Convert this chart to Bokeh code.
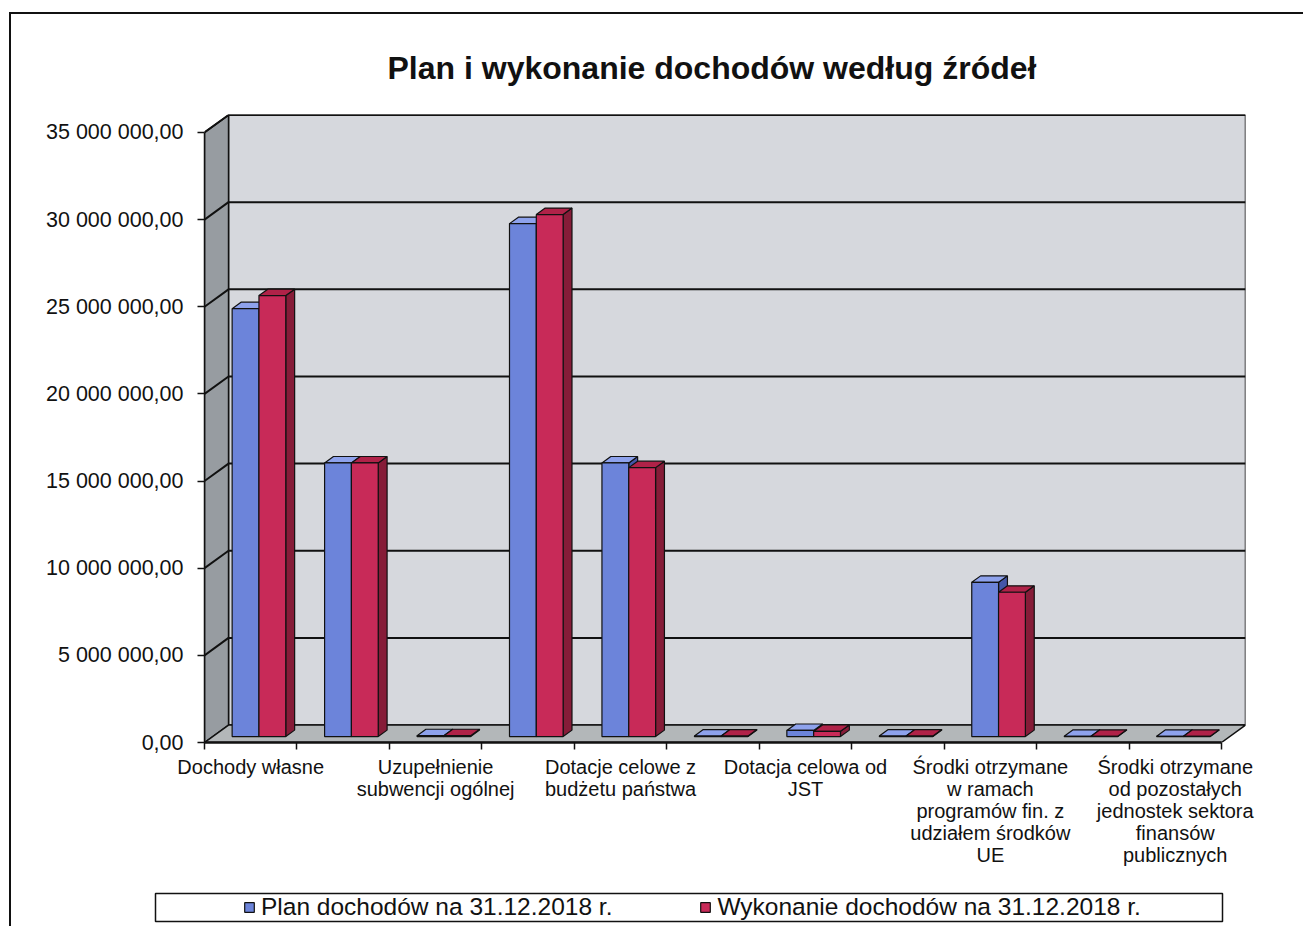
from bokeh.plotting import figure
from bokeh.models import FixedTicker, Legend, LegendItem, Range1d, Column, Row
from bokeh.embed import file_html
from bokeh.resources import INLINE

# ---------------- data ----------------
title_text = "Plan i wykonanie dochodów według źródeł"
categories = [
    "Dochody własne",
    "Subwencja ogólna",
    "Uzupełnienie subwencji ogólnej",
    "Dotacje celowe z budżetu państwa na zadania zlecone",
    "Dotacje celowe z budżetu państwa",
    "Dotacje z funduszy celowych",
    "Dotacja celowa od JST",
    "Dotacje w ramach porozumień",
    "Środki otrzymane w ramach programów fin. z udziałem środków UE",
    "Pozostałe dochody",
    "Środki otrzymane od pozostałych jednostek sektora finansów publicznych",
]
# category labels actually printed under the axis (others skipped, as in the original)
shown_labels = {
    0: "Dochody własne",
    2: "Uzupełnienie\nsubwencji ogólnej",
    4: "Dotacje celowe z\nbudżetu państwa",
    6: "Dotacja celowa od\nJST",
    8: "Środki otrzymane\nw ramach\nprogramów fin. z\nudziałem środków\nUE",
    10: "Środki otrzymane\nod pozostałych\njednostek sektora\nfinansów\npublicznych",
}
series_names = ["Plan dochodów na 31.12.2018 r.", "Wykonanie dochodów na 31.12.2018 r."]
plan = [24_550_000, 15_700_000, 50_000, 29_430_000, 15_700_000, 30_000,
        350_000, 30_000, 8_850_000, 20_000, 20_000]
wykonanie = [25_300_000, 15_700_000, 50_000, 29_950_000, 15_430_000, 30_000,
             300_000, 30_000, 8_280_000, 20_000, 20_000]
y_ticks = [0, 5_000_000, 10_000_000, 15_000_000, 20_000_000, 25_000_000, 30_000_000, 35_000_000]
y_tick_labels = ["0,00", "5 000 000,00", "10 000 000,00", "15 000 000,00", "20 000 000,00",
                 "25 000 000,00", "30 000 000,00", "35 000 000,00"]

# ---------------- style / 3-D geometry ----------------
N = len(categories)
YMAX = y_ticks[-1]
DX_W, DY_W = 0.26, 1_000_000        # wall depth offset
BW = 0.29                            # bar width (category units)
DX_B0, DY_B0 = 0.089, 340_000        # bar front offset from front plane
DX_BD, DY_BD = 0.096, 370_000        # bar depth
FONT = "Liberation Sans"
INK = "#111111"

BLUE = dict(front="#6C84DA", top="#8EA2EC", side="#4456A8")
RED = dict(front="#C82A58", top="#B02248", side="#861C38")

p = figure(width=1292, height=866, output_backend="svg", toolbar_location=None,
           x_range=Range1d(0, N + DX_W), y_range=Range1d(0, YMAX + DY_W + 30_000),
           min_border_left=193, min_border_right=58, min_border_top=100, min_border_bottom=138,
           background_fill_color="white", border_fill_color="white", outline_line_color=None)
p.xgrid.visible = False
p.ygrid.visible = False

# back wall
p.quad(left=[DX_W], right=[N + DX_W], bottom=[DY_W], top=[YMAX + DY_W],
       fill_color="#D6D8DD", line_color=INK, line_width=1.5)
# left wall
p.patch([0, DX_W, DX_W, 0], [0, DY_W, YMAX + DY_W, YMAX],
        fill_color="#979CA1", line_color=INK, line_width=1.5)
# floor
p.patch([0, N, N + DX_W, DX_W], [0, 0, DY_W, DY_W],
        fill_color="#B3B7B9", line_color=INK, line_width=1.5)

# gridlines on back wall + connectors on left wall
gx, gy = [], []
for v in y_ticks[1:]:
    gx.append([0, DX_W, N + DX_W])
    gy.append([v, v + DY_W, v + DY_W])
p.multi_line(gx, gy, line_color=INK, line_width=2)


def bar_parts(values, side):
    fl, fr, fb, ft = [], [], [], []
    txs, tys, sxs, sys_ = [], [], [], []
    for i, v in enumerate(values):
        c = i + 0.5
        if side < 0:
            l, r = c - BW + DX_B0, c + DX_B0
        else:
            l, r = c + DX_B0, c + BW + DX_B0
        b = DY_B0
        t = DY_B0 + v
        fl.append(l); fr.append(r); fb.append(b); ft.append(t)
        txs.append([l, r, r + DX_BD, l + DX_BD])
        tys.append([t, t, t + DY_BD, t + DY_BD])
        sxs.append([r, r + DX_BD, r + DX_BD, r])
        sys_.append([b, b + DY_BD, t + DY_BD, t])
    return fl, fr, fb, ft, txs, tys, sxs, sys_


for vals, col, side in [(plan, BLUE, -1), (wykonanie, RED, 1)]:
    fl, fr, fb, ft, txs, tys, sxs, sys_ = bar_parts(vals, side)
    p.patches(sxs, sys_, fill_color=col["side"], line_color=INK, line_width=1.2)
    p.patches(txs, tys, fill_color=col["top"], line_color=INK, line_width=1.2)
    p.quad(left=fl, right=fr, bottom=fb, top=ft, fill_color=col["front"],
           line_color=INK, line_width=1.2)

# ---------------- axes ----------------
yax = p.yaxis[0]
yax.ticker = FixedTicker(ticks=y_ticks)
yax.major_label_overrides = {t: lab for t, lab in zip(y_ticks, y_tick_labels)}
yax.bounds = (0, YMAX)
yax.axis_line_color = INK
yax.axis_line_width = 1.5
yax.major_tick_out = 7
yax.major_tick_in = 0
yax.major_tick_line_color = INK
yax.major_tick_line_width = 1.5
yax.minor_tick_line_color = None
yax.major_label_standoff = 14
yax.major_label_text_font = FONT
yax.major_label_text_font_size = "21.5px"
yax.major_label_text_color = INK

xax = p.xaxis[0]
label_pos = [k + 0.5 for k in shown_labels]
xax.ticker = FixedTicker(ticks=label_pos, minor_ticks=list(range(N + 1)))
xax.major_label_overrides = {k + 0.5: lab for k, lab in shown_labels.items()}
xax.bounds = (0, N)
xax.axis_line_color = INK
xax.axis_line_width = 2.5
xax.major_tick_line_color = None
xax.major_tick_out = 0
xax.major_tick_in = 0
xax.minor_tick_out = 7
xax.minor_tick_in = 0
xax.minor_tick_line_color = INK
xax.minor_tick_line_width = 1.5
xax.major_label_standoff = 6
xax.major_label_orientation = "horizontal"
xax.major_label_text_font = FONT
xax.major_label_text_font_size = "20px"
xax.major_label_text_color = INK
xax.major_label_text_line_height = 1.0

# ---------------- title ----------------
p.title.text = title_text
p.title.align = "left"
p.title.offset = 183
p.title.standoff = 58
p.title.text_font = FONT
p.title.text_font_size = "32px"
p.title.text_font_style = "bold"
p.title.text_color = INK

# ---------------- legend (own small panel whose frame is the legend box) ----------------
lg = figure(width=1292, height=46, output_backend="svg", toolbar_location=None,
            x_range=Range1d(0, 1), y_range=Range1d(0, 1),
            x_axis_type=None, y_axis_type=None,
            min_border_left=144, min_border_right=81, min_border_top=13, min_border_bottom=5,
            background_fill_color="white", border_fill_color="white",
            outline_line_color=INK, outline_line_width=1.5)
lg_r = []
for col in (BLUE, RED):
    # legend swatch proxies, kept outside the visible range of this small panel
    lg_r.append(lg.quad(left=[-2], right=[-1], bottom=[-2], top=[-1], fill_color=col["front"],
                        line_color=INK, line_width=1.2))
legend = Legend(items=[LegendItem(label=series_names[0], renderers=[lg_r[0]]),
                       LegendItem(label=series_names[1], renderers=[lg_r[1]])],
                orientation="horizontal", location=(88, 0),
                border_line_color=None, background_fill_alpha=0, padding=0, margin=0,
                spacing=87, label_standoff=6, glyph_width=12, glyph_height=12,
                label_text_font=FONT, label_text_font_size="24.5px",
                label_text_color=INK)
lg.add_layout(legend, "center")

layout = Column(children=[p, Row(children=[lg], spacing=0)], spacing=0, margin=(12, 0, 0, 9),
                styles={"border-left": "2px solid #111111", "border-top": "2px solid #111111"})

open("out.html", "w").write(file_html(layout, INLINE))
